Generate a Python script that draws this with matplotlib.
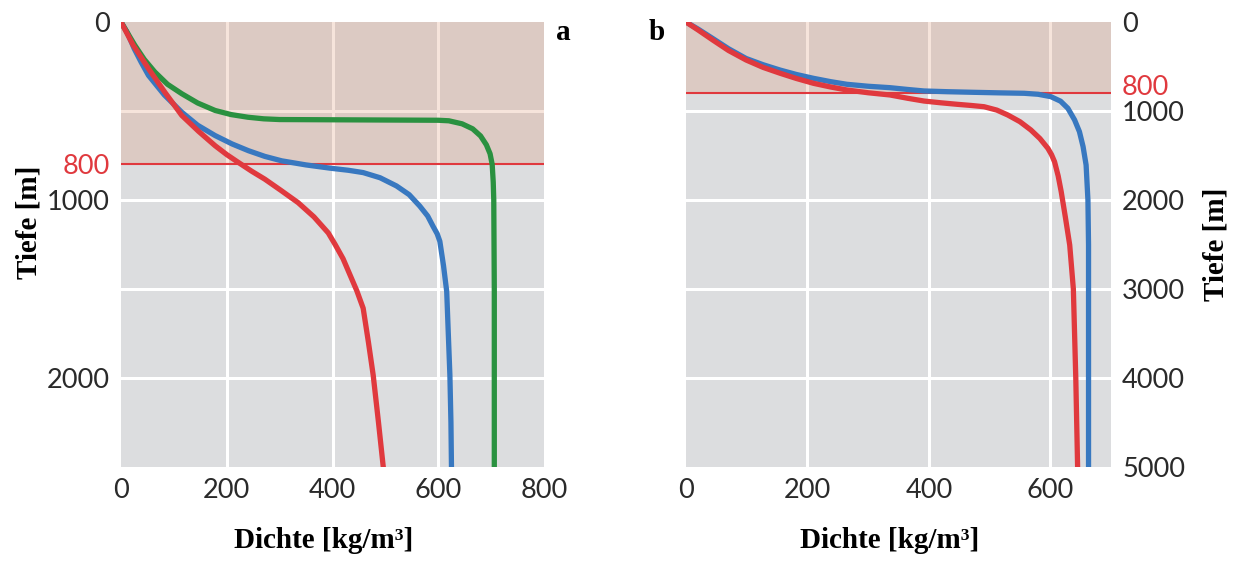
import numpy as np
import matplotlib.pyplot as plt
import matplotlib.transforms as mtransforms

# panel a (density in kg/m3, depth in m)
a_green_v = [0, 12, 26, 44, 64, 88, 115, 145, 178, 208, 240, 270, 300, 450, 600,
             620, 645, 665, 680, 691, 698, 702, 704, 705, 706, 706]
a_green_d = [0, 60, 130, 210, 281, 350, 403, 455, 497, 520, 535, 544, 548, 550, 552,
             555, 572, 600, 640, 690, 740, 800, 900, 1000, 1500, 2500]
a_blue_v = [0, 12, 25, 38, 52, 82, 115, 145, 178, 210, 241, 272, 304, 350, 395, 430,
            458, 490, 521, 545, 565, 580, 590, 598, 603, 610, 616, 619, 622, 624, 625]
a_blue_d = [0, 60, 150, 225, 300, 410, 507, 580, 638, 685, 723, 755, 780, 803, 821, 833,
            846, 875, 921, 970, 1034, 1090, 1147, 1190, 1232, 1370, 1514, 1750, 1983, 2250, 2500]
a_red_v = [0, 23, 52, 83, 115, 147, 178, 200, 222, 247, 272, 302, 335, 365, 392, 405,
           420, 433, 446, 458, 468, 477, 487, 496]
a_red_d = [0, 130, 262, 395, 525, 615, 695, 745, 789, 838, 883, 945, 1015, 1095, 1185, 1250,
           1330, 1420, 1510, 1608, 1800, 1985, 2250, 2500]

# panel b
b_blue_v = [0, 20, 44, 70, 99, 127, 155, 182, 210, 238, 265, 300, 336, 365, 392, 430,
            474, 515, 557, 580, 601, 617, 629, 640, 648, 654, 659, 662, 663, 663]
b_blue_d = [0, 80, 185, 300, 410, 480, 540, 590, 633, 670, 700, 722, 738, 758, 775, 783,
            790, 796, 801, 812, 839, 890, 970, 1100, 1232, 1400, 1607, 2000, 2506, 5000]
b_red_v = [0, 20, 44, 70, 99, 127, 155, 182, 210, 238, 265, 300, 336, 365, 392, 420,
           447, 470, 491, 512, 530, 550, 568, 583, 596, 602, 607, 613, 618, 625, 632,
           638, 642, 645]
b_red_d = [0, 90, 202, 320, 427, 510, 576, 635, 689, 730, 764, 795, 820, 857, 888, 908,
           925, 938, 952, 990, 1045, 1120, 1213, 1310, 1419, 1490, 1570, 1730, 1907, 2200, 2506,
           3000, 4000, 5000]

a_xticks = [0, 200, 400, 600, 800]
a_yticks = [0, 800, 1000, 2000]
b_xticks = [0, 200, 400, 600]
b_yticks = [0, 800, 1000, 2000, 3000, 4000, 5000]
limit = 800

RED = '#e0393e'
BLUE = '#3878c0'
GREEN = '#2a9140'
BG = '#dcdddf'
tick_font = 'Lato'
label_font = 'Liberation Serif'

fig = plt.figure(figsize=(12.34, 5.63), dpi=100)
ax1 = fig.add_axes([121/1234, 1-467/563, 423/1234, 445/563])
ax2 = fig.add_axes([686/1234, 1-467/563, 425/1234, 445/563])


def style(ax, xmax, ymax, xt, yt, hgrid, vgrid, right=False):
    ax.set_facecolor(BG)
    ax.set_xlim(0, xmax)
    ax.set_ylim(ymax, 0)
    for s in ax.spines.values():
        s.set_visible(False)
    for g in hgrid:
        ax.axhline(g, color='white', lw=2.2, zorder=1)
    for g in vgrid:
        ax.axvline(g, color='white', lw=2.2, zorder=1)
    ax.axhspan(0, limit, color='#dc9573', alpha=0.25, lw=0, zorder=2)
    ax.axhline(limit, color=RED, lw=1.5, zorder=3)
    ax.set_xticks(xt)
    ax.set_yticks(yt)
    if right:
        ax.yaxis.tick_right()
        ax.yaxis.set_label_position('right')
    ax.tick_params(length=0, labelsize=19.5, pad=8, labelcolor='#2a2a2a',
                   labelfontfamily=tick_font)
    for lab in ax.get_yticklabels():
        if lab.get_text() == str(limit):
            lab.set_color(RED)
            if right:
                lab.set_transform(lab.get_transform() +
                                  mtransforms.ScaledTranslation(0, 6/72, fig.dpi_scale_trans))
    ax.set_xlabel('Dichte [kg/m³]', fontsize=21, fontweight='bold', family=label_font)
    ax.set_ylabel('Tiefe [m]', fontsize=21, fontweight='bold', family=label_font)
    ax.xaxis.set_label_coords(0.48, -0.135)


style(ax1, 800, 2500, a_xticks, a_yticks, [500, 1000, 1500, 2000], [200, 400, 600])
style(ax2, 700, 5000, b_xticks, b_yticks, [1000, 2000, 3000, 4000], [200, 400, 600],
      right=True)

lw = 3.8
ax1.plot(a_red_v, a_red_d, color=RED, lw=lw, zorder=5, solid_joinstyle='round')
ax1.plot(a_blue_v, a_blue_d, color=BLUE, lw=lw, zorder=4, solid_joinstyle='round')
ax1.plot(a_green_v, a_green_d, color=GREEN, lw=lw, zorder=4, solid_joinstyle='round')
ax1.yaxis.set_label_coords(-0.185, 0.55)

ax2.plot(b_blue_v, b_blue_d, color=BLUE, lw=lw, zorder=4, solid_joinstyle='round')
ax2.plot(b_red_v, b_red_d, color=RED, lw=lw, zorder=5, solid_joinstyle='round')
ax2.yaxis.set_label_coords(1.215, 0.5)

fig.text(563/1234, 1-32/563, 'a', fontsize=21, fontweight='bold', family=label_font,
         ha='center', va='center')
fig.text(657/1234, 1-32/563, 'b', fontsize=21, fontweight='bold', family=label_font,
         ha='center', va='center')

fig.savefig('out.png', dpi=100)
